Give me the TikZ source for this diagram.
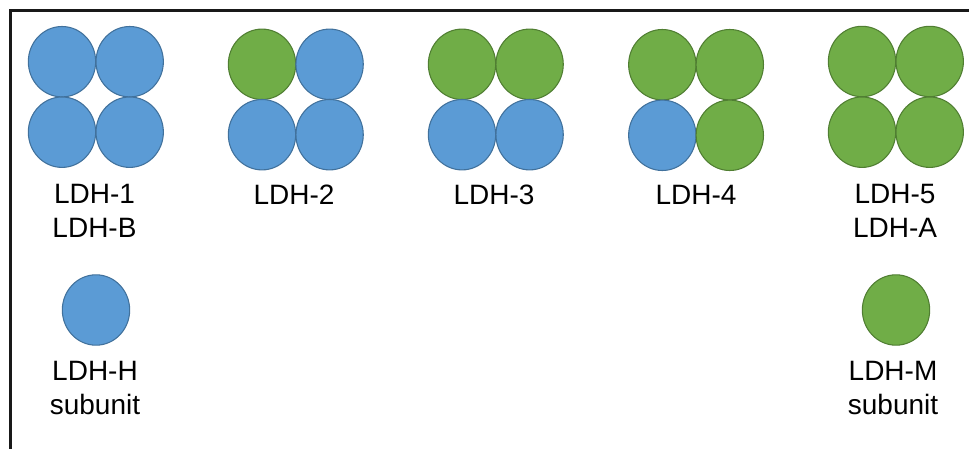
\documentclass[tikz,border=0pt]{standalone}
\usepackage{fontspec}
\setmainfont{Liberation Sans}
\usetikzlibrary{shapes.geometric}

\definecolor{hblue}{HTML}{5B9BD5}
\definecolor{hblueline}{HTML}{41719C}
\definecolor{mgreen}{HTML}{70AD47}
\definecolor{mgreenline}{HTML}{507E32}

\tikzset{
  sub/.style={ellipse, inner sep=0pt, outer sep=0pt, line width=0.8pt,
    minimum width=50.5pt, minimum height=52.8pt},
  hsub/.style={sub, fill=hblue, draw=hblueline},
  msub/.style={sub, fill=mgreen, draw=mgreenline},
  % base anchor of a multi-line label sits on its last line
  lbl/.style={anchor=base, inner sep=0pt, align=center,
    font=\fontsize{21pt}{25.5pt}\selectfont},
  frameline/.style={line width=1.6pt, black!90}
}

\begin{document}
\begin{tikzpicture}[x=0.75pt, y=-0.75pt]
  \useasboundingbox (0,0) rectangle (969,449);

  % frame: top and left edges
  \coordinate (ftl) at (10.5,10.5);
  \coordinate (ftr) at (969,10.5);
  \coordinate (fbl) at (10.5,449);
  \draw[frameline] (ftr) -- (ftl) -- (fbl);

  % LDH-1 (H4)
  \node[hsub] (a1) at (62,61.7) {};
  \node[hsub] (a2) at (129.7,61.7) {};
  \node[hsub] (a3) at (62,132.2) {};
  \node[hsub] (a4) at (129.7,132.2) {};
  \node[lbl] (la) at (94.5,237) {LDH-1\\LDH-B};

  % LDH-2 (H3M)
  \node[msub] (b1) at (262,64.3) {};
  \node[hsub] (b2) at (329.6,64.3) {};
  \node[hsub] (b3) at (262,134.7) {};
  \node[hsub] (b4) at (329.6,134.7) {};
  \node[lbl] (lb) at (294,204) {LDH-2};

  % LDH-3 (H2M2)
  \node[msub] (c1) at (462,64.3) {};
  \node[msub] (c2) at (529.6,64.3) {};
  \node[hsub] (c3) at (462,134.7) {};
  \node[hsub] (c4) at (529.6,134.7) {};
  \node[lbl] (lc) at (494,204) {LDH-3};

  % LDH-4 (HM3)
  \node[msub] (d1) at (662.3,64.7) {};
  \node[msub] (d2) at (729.8,64.7) {};
  \node[hsub] (d3) at (662.3,135.3) {};
  \node[msub] (d4) at (729.8,135.3) {};
  \node[lbl] (ld) at (696,204) {LDH-4};

  % LDH-5 (M4)
  \node[msub] (e1) at (862,61.5) {};
  \node[msub] (e2) at (929.7,61.5) {};
  \node[msub] (e3) at (862,132.2) {};
  \node[msub] (e4) at (929.7,132.2) {};
  \node[lbl] (le) at (895,237) {LDH-5\\LDH-A};

  % single subunits
  \node[hsub] (h) at (96,310) {};
  \node[lbl] (lh) at (95,414) {LDH-H\\subunit};
  \node[msub] (m) at (896,310) {};
  \node[lbl] (lm) at (893,414) {LDH-M\\subunit};
\end{tikzpicture}
\end{document}
